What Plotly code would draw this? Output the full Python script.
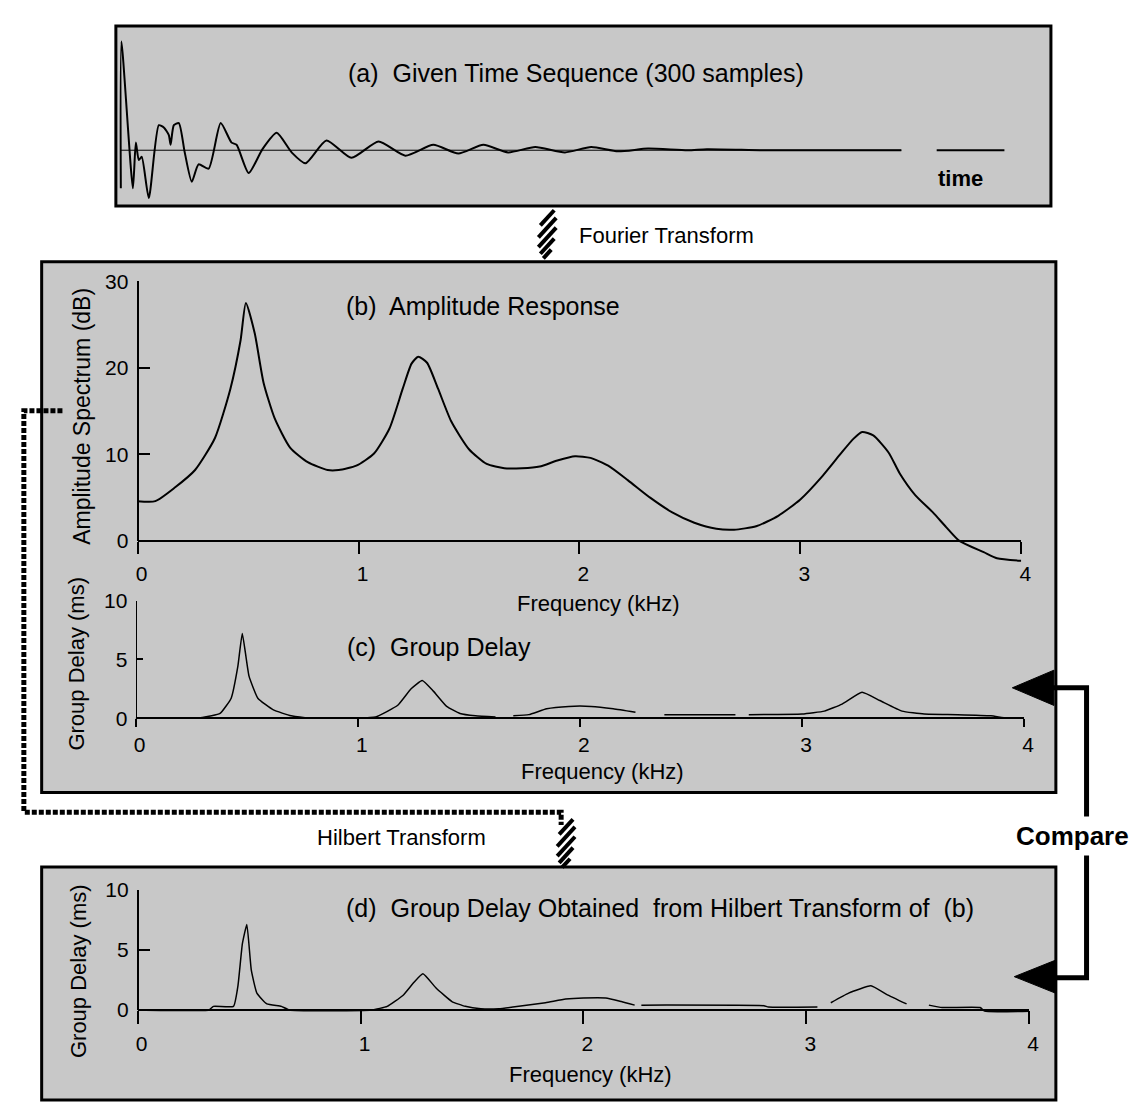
import plotly.graph_objects as go

W, H = 1140, 1105

# ---------------- data ----------------
# (a) given time sequence: sample index and relative amplitude
seq_n = [0, 0.2, 4.1, 5.1, 6.1, 7.1, 9.5, 12.9, 14.6, 16.3, 16.9, 18.0, 19.7, 21.7, 24.1,
         26.4, 29.8, 33.9, 37.6, 39.3, 43.4, 48.1, 52.9, 58.0, 62.7, 69.8, 78.3, 87.5,
         96.6, 106.1, 114.6, 123.1, 131.5, 140.7, 150.8, 159.7, 168.8, 179, 192.5, 199,
         220, 265, None, 277, 300]
seq_a = [-0.35, 1.0, -0.35, 0.07, -0.09, -0.06, -0.44, 0.23, 0.21, 0.14, 0.05, 0.23, 0.25,
         -0.02, -0.29, -0.13, -0.17, 0.25, 0.07, 0.05, -0.21, 0.01, 0.16, -0.02, -0.12,
         0.09, -0.07, 0.08, -0.05, 0.05, -0.03, 0.05, -0.02, 0.03, -0.02, 0.03, -0.01,
         0.015, 0.0, 0.01, 0.0, 0.0, None, 0.0, 0.0]
base_n = [0, 265]
base_a = [0, 0]

# (b) amplitude response
amp_f = [0, 0.08, 0.17, 0.26, 0.35, 0.42, 0.466, 0.49, 0.53, 0.57, 0.62, 0.69, 0.77, 0.86,
         0.91, 0.99, 1.07, 1.14, 1.20, 1.24, 1.27, 1.31, 1.36, 1.42, 1.50, 1.58, 1.66,
         1.74, 1.82, 1.90, 1.98, 2.05, 2.13, 2.22, 2.32, 2.42, 2.52, 2.62, 2.70, 2.80,
         2.90, 3.00, 3.10, 3.18, 3.24, 3.28, 3.33, 3.40, 3.45, 3.52, 3.60, 3.66, 3.72,
         3.83, 3.89, 4.0]
amp_db = [4.6, 4.6, 6.2, 8.2, 11.9, 17.6, 23.2, 27.5, 24.0, 18.3, 14.2, 10.8, 9.1, 8.2,
          8.2, 8.7, 10.1, 13.0, 17.6, 20.5, 21.3, 20.6, 17.6, 13.8, 10.6, 8.9, 8.4,
          8.4, 8.6, 9.3, 9.8, 9.6, 8.7, 7.0, 5.0, 3.3, 2.1, 1.4, 1.3, 1.7,
          2.9, 4.8, 7.5, 10.0, 11.8, 12.6, 12.2, 10.2, 7.8, 5.3, 3.3, 1.6, 0.0,
          -1.3, -2.0, -2.3]

# (c) group delay
gd_f = [0, 0.30, 0.38, 0.43, 0.46, 0.48, 0.51, 0.55, 0.62, 0.70, 0.79, 1.00, 1.08, 1.18,
        1.24, 1.29, 1.34, 1.40, 1.46, 1.53, 1.62, None, 1.70, 1.77, 1.85, 1.95, 2.05,
        2.15, 2.25, None, 2.38, 2.70, None, 2.76, 3.00, 3.10, 3.18, 3.27, 3.35, 3.45,
        3.55, 3.70, 3.85, 3.92, 4.00]
gd_ms = [0, 0.05, 0.4, 1.7, 4.4, 7.2, 3.6, 1.7, 0.7, 0.2, 0.0, 0.0, 0.1, 1.1,
         2.5, 3.2, 2.3, 1.0, 0.4, 0.2, 0.1, None, 0.2, 0.3, 0.8, 1.0, 1.0,
         0.8, 0.5, None, 0.3, 0.3, None, 0.3, 0.35, 0.6, 1.2, 2.2, 1.5, 0.6,
         0.35, 0.3, 0.2, 0.0, 0.0]

# (d) group delay from Hilbert transform of (b)
hd_f = [0, 0.32, 0.34, 0.43, 0.45, 0.47, 0.49, 0.51, 0.535, 0.58, 0.645, 0.68, 1.05, 1.12,
        1.19, 1.24, 1.28, 1.34, 1.41, 1.47, 1.54, 1.62, 1.71, 1.83, 1.92, 2.00, 2.10,
        2.17, 2.23, None, 2.26, 2.81, 2.83, 3.05, None, 3.11, 3.19, 3.29, 3.36, 3.45,
        None, 3.55, 3.61, 3.78, 3.80, 4.00]
hd_ms = [0, 0, 0.3, 0.3, 2.0, 5.5, 7.1, 3.3, 1.4, 0.5, 0.3, 0, 0, 0.3,
         1.2, 2.3, 3.0, 1.8, 0.7, 0.3, 0.1, 0.1, 0.3, 0.6, 0.9, 1.0, 1.0,
         0.7, 0.4, None, 0.4, 0.35, 0.25, 0.25, None, 0.6, 1.4, 2.0, 1.3, 0.5,
         None, 0.4, 0.2, 0.2, -0.1, -0.1]

freq_ticks = [0, 1, 2, 3, 4]
db_ticks = [0, 10, 20, 30]
ms_ticks = [0, 5, 10]

# ---------------- layout helpers ----------------
FONT = "Liberation Sans, Arial, Helvetica, sans-serif"
GRAY = "#c8c8c8"


def px(p):
    return p / W


def py(p):
    return 1 - p / H


def dom_x(v0, p0, v1, p1, rng):
    s = (p1 - p0) / (v1 - v0)
    return [px(p0 + (rng[0] - v0) * s), px(p0 + (rng[1] - v0) * s)]


def dom_y(v0, p0, v1, p1, rng):
    s = (p1 - p0) / (v1 - v0)
    a = py(p0 + (rng[0] - v0) * s)
    b = py(p0 + (rng[1] - v0) * s)
    return [min(a, b), max(a, b)]


fig = go.Figure()

# traces
fig.add_trace(go.Scatter(x=base_n, y=base_a, mode="lines", line=dict(color="black", width=1),
                         xaxis="x", yaxis="y", hoverinfo="skip"))
fig.add_trace(go.Scatter(x=seq_n, y=seq_a, mode="lines",
                         line=dict(color="black", width=2, shape="spline", smoothing=0.6),
                         xaxis="x", yaxis="y", connectgaps=False))
fig.add_trace(go.Scatter(x=amp_f, y=amp_db, mode="lines",
                         line=dict(color="black", width=2, shape="spline", smoothing=0.6),
                         xaxis="x2", yaxis="y2"))
fig.add_trace(go.Scatter(x=[None], y=[None], mode="lines", xaxis="x2", yaxis="y3", hoverinfo="skip"))
fig.add_trace(go.Scatter(x=gd_f, y=gd_ms, mode="lines",
                         line=dict(color="black", width=1.5, shape="spline", smoothing=0.4),
                         xaxis="x3", yaxis="y4", connectgaps=False))
fig.add_trace(go.Scatter(x=[None], y=[None], mode="lines", xaxis="x3", yaxis="y5", hoverinfo="skip"))
fig.add_trace(go.Scatter(x=hd_f, y=hd_ms, mode="lines",
                         line=dict(color="black", width=1.5, shape="spline", smoothing=0.4),
                         xaxis="x4", yaxis="y6", connectgaps=False))
fig.add_trace(go.Scatter(x=[None], y=[None], mode="lines", xaxis="x4", yaxis="y7", hoverinfo="skip"))

tickfont = dict(family=FONT, size=21, color="black")


def xaxis_free(p0, p1, ypos, lw, tlen, standoff):
    return dict(domain=[px(p0), px(p1)], range=[0, 4], anchor="free", position=py(ypos),
                showline=True, linecolor="black", linewidth=lw, ticks="outside",
                ticklen=tlen, tickwidth=1.5, tickcolor="black", tickvals=freq_ticks,
                ticktext=[str(v) for v in freq_ticks], tickfont=tickfont,
                ticklabelstandoff=standoff, ticklabelshift=4,
                showgrid=False, zeroline=False, fixedrange=True)


def yaxis_free(xpos, p0, p1, top, vals, lw, tlen, xa):
    return dict(domain=[py(p0), py(p1)], range=[0, top], anchor="free", position=px(xpos),
                showline=True, linecolor="black", linewidth=lw, ticks="inside",
                ticklen=tlen, tickwidth=1.5, tickcolor="black", tickvals=vals,
                ticktext=[str(v) for v in vals], tickfont=tickfont, ticklabelstandoff=4,
                showgrid=False, zeroline=False, fixedrange=True)


def hidden_y(v0, p0, v1, p1, rng, xa):
    return dict(domain=dom_y(v0, p0, v1, p1, rng), range=rng, visible=False, anchor=xa,
                showgrid=False, zeroline=False)


layout = dict(
    width=W, height=H, margin=dict(l=0, r=0, t=0, b=0),
    paper_bgcolor="white", plot_bgcolor="rgba(0,0,0,0)", showlegend=False,
    font=dict(family=FONT, color="black"),
    xaxis=dict(domain=dom_x(0, 112, 300, 1005, [-2, 302]), range=[-2, 302], visible=False,
               anchor="y", showgrid=False, zeroline=False),
    yaxis=dict(domain=dom_y(0, 133, 1, 22, [-0.6, 1.1]), range=[-0.6, 1.1], visible=False,
               anchor="x", showgrid=False, zeroline=False),
    xaxis2=xaxis_free(129, 1022, 532, 2, 12, 2),
    yaxis2=hidden_y(0, 532, 30, 267, [-4, 31], "x2"),
    yaxis3=yaxis_free(129, 532, 267, 30, db_ticks, 2, 11, "x2"),
    xaxis3=xaxis_free(127, 1025, 713, 2, 8, 0),
    yaxis4=hidden_y(0, 713, 10, 593, [-0.6, 10.5], "x3"),
    yaxis5=yaxis_free(127, 713, 593, 10, ms_ticks, 1, 6, "x3"),
    xaxis4=xaxis_free(129, 1030, 1011, 2, 13, 2),
    yaxis6=hidden_y(0, 1011, 10, 888, [-0.6, 10.5], "x4"),
    yaxis7=yaxis_free(129, 1011, 888, 10, ms_ticks, 1.5, 12, "x4"),
)
fig.update_layout(**layout)

# ---------------- decorations ----------------
shapes = []


def box(x0, y0, x1, y1):
    shapes.append(dict(type="rect", xref="paper", yref="paper", x0=px(x0), y0=py(y0),
                       x1=px(x1), y1=py(y1), fillcolor=GRAY,
                       line=dict(color="black", width=3), layer="below"))


box(107, 6, 1052, 190)
box(32, 247, 1057, 789)
box(32, 865, 1057, 1103)


def path(pts, width, dash=None, fill=None, close=False):
    d = "M " + " L ".join(f"{px(a):.5f},{py(b):.5f}" for a, b in pts)
    if close:
        d += " Z"
    s = dict(type="path", xref="paper", yref="paper", path=d,
             line=dict(color="black", width=width), layer="above")
    if dash:
        s["line"]["dash"] = dash
    if fill:
        s["fillcolor"] = fill
    shapes.append(s)


def hatch_arrow(cx, ytop):
    specs = [(4, 7), (14, 9), (24, 9), (33, 7), (41, 4)]
    for dy, dx in specs:
        cy = ytop + dy
        path([(cx - dx, cy + dx * 1.1), (cx + dx, cy - dx * 1.1)], 4)


# Hilbert dashed path
path([(53, 399), (14, 399), (14, 809), (557, 809), (557, 822)], 5, dash="5px,2px")
# hatched arrows
hatch_arrow(543, 198)
hatch_arrow(562, 820)
# compare bracket
path([(1052, 682), (1088, 682), (1088, 978), (1055, 978)], 5)
path([(1013, 682), (1055, 664), (1055, 700)], 1, fill="black", close=True)
path([(1015, 977), (1057, 960), (1057, 994)], 1, fill="black", close=True)

fig.update_layout(shapes=shapes)

# ---------------- text ----------------
ann = []


def text(t, x, y, size, xanchor="left", angle=0, bold=False, bg=None):
    a = dict(text=f"<b>{t}</b>" if bold else t, x=px(x), y=py(y), xref="paper", yref="paper",
             xanchor=xanchor, yanchor="middle", showarrow=False, textangle=angle,
             font=dict(family=FONT, size=size, color="black"))
    if bg:
        a["bgcolor"] = bg
        a["borderpad"] = 4
    ann.append(a)


text("(a)  Given Time Sequence (300 samples)", 340, 54, 25)
text("time", 961, 162, 22, xanchor="center", bold=True)
text("Fourier Transform", 573, 220, 22)
text("(b)  Amplitude Response", 338, 292, 25)
text("Amplitude Spectrum (dB)", 72, 405, 23, xanchor="center", angle=-90)
text("Frequency (kHz)", 595, 596, 22, xanchor="center")
text("(c)  Group Delay", 339, 640, 25)
text("Group Delay (ms)", 67, 657, 22, xanchor="center", angle=-90)
text("Frequency (kHz)", 599, 767, 22, xanchor="center")
text("Hilbert Transform", 308, 835, 22)
text("Compare", 1074, 833, 26, xanchor="center", bold=True, bg="white")
text("(d)  Group Delay Obtained  from Hilbert Transform of  (b)", 338, 907, 25)
text("Group Delay (ms)", 70, 971, 22, xanchor="center", angle=-90)
text("Frequency (kHz)", 587, 1077, 22, xanchor="center")

fig.update_layout(annotations=ann)

fig.write_html("out.html")
